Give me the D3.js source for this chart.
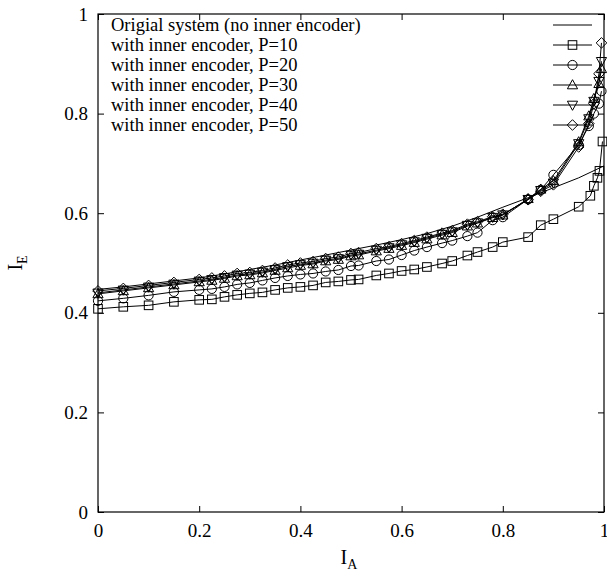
<!DOCTYPE html>
<html><head><meta charset="utf-8">
<script src="https://cdn.jsdelivr.net/npm/d3@7/dist/d3.min.js"></script>
<style>body{margin:0;background:#fff}svg{display:block}text{font-family:"Liberation Serif","Times New Roman",serif;fill:#000}</style>
</head><body><svg id="c" width="607" height="573"></svg>
<script>
// ---- data ----
const xOrig = [0,0.05,0.1,0.15,0.2,0.25,0.3,0.35,0.4,0.45,0.5,0.55,0.6,0.65,0.7,0.75,0.8,0.85,0.9,0.95,1.0];
const yOrig = [0.447,0.452,0.458,0.464,0.470,0.478,0.487,0.496,0.506,0.516,0.526,0.536,0.547,0.559,0.574,0.592,0.612,0.631,0.651,0.671,0.695];

const xP10 = [0,0.05,0.1,0.15,0.2,0.225,0.25,0.275,0.3,0.325,0.35,0.375,0.4,0.425,0.45,0.475,0.5,0.515,0.55,0.575,0.6,0.625,0.65,0.68,0.7,0.73,0.75,0.78,0.8,0.85,0.875,0.9,0.95,0.973,0.98,0.987,0.991,0.997];
const yP10 = [0.408,0.412,0.415,0.422,0.426,0.427,0.432,0.436,0.439,0.441,0.446,0.450,0.452,0.455,0.461,0.463,0.466,0.467,0.475,0.479,0.484,0.487,0.492,0.499,0.504,0.515,0.522,0.532,0.542,0.552,0.576,0.588,0.613,0.635,0.655,0.671,0.685,0.744];

const xUp = [0,0.05,0.1,0.15,0.2,0.225,0.25,0.275,0.3,0.325,0.35,0.375,0.4,0.425,0.45,0.475,0.5,0.515,0.55,0.575,0.6,0.625,0.65,0.68,0.7,0.73,0.75,0.78,0.8,0.85,0.875,0.9,0.95,0.97,0.98,0.99,0.995];
const yP20 = [0.424,0.429,0.435,0.442,0.446,0.448,0.452,0.457,0.460,0.465,0.470,0.474,0.477,0.479,0.483,0.486,0.494,0.495,0.504,0.507,0.516,0.525,0.532,0.540,0.545,0.554,0.561,0.586,0.592,0.628,0.647,0.677,0.737,0.775,0.800,0.820,0.845];
const yP30 = [0.438,0.444,0.450,0.456,0.462,0.465,0.469,0.474,0.476,0.480,0.485,0.490,0.495,0.498,0.504,0.507,0.514,0.516,0.524,0.529,0.535,0.541,0.548,0.556,0.561,0.574,0.580,0.591,0.596,0.629,0.648,0.665,0.743,0.795,0.830,0.860,0.890];
const yP40 = [0.440,0.446,0.452,0.458,0.464,0.467,0.471,0.476,0.478,0.482,0.487,0.493,0.497,0.500,0.506,0.509,0.516,0.518,0.526,0.531,0.537,0.543,0.550,0.558,0.563,0.576,0.581,0.592,0.597,0.628,0.646,0.661,0.740,0.790,0.825,0.865,0.905];
const yP50 = [0.444,0.449,0.455,0.461,0.467,0.470,0.474,0.479,0.481,0.485,0.490,0.496,0.500,0.503,0.509,0.512,0.519,0.521,0.529,0.533,0.539,0.545,0.552,0.560,0.565,0.578,0.583,0.593,0.598,0.627,0.644,0.657,0.733,0.780,0.820,0.880,0.942];

const seriesNames = ["Origial system (no inner encoder)","with inner encoder, P=10","with inner encoder, P=20","with inner encoder, P=30","with inner encoder, P=40","with inner encoder, P=50"];
const seriesMarkers = ["none","square","circle","triUp","triDown","diamond"];
const xTicks = [0,0.2,0.4,0.6,0.8,1];
const yTicks = [0,0.2,0.4,0.6,0.8,1];

const series = [
  {xs:xOrig, ys:yOrig},
  {xs:xP10, ys:yP10},
  {xs:xUp, ys:yP20},
  {xs:xUp, ys:yP30},
  {xs:xUp, ys:yP40},
  {xs:xUp, ys:yP50}
].map((s,i)=>({name:seriesNames[i], marker:seriesMarkers[i], pts:s.xs.map((x,j)=>[x,s.ys[j]])}));

// ---- drawing ----
const svg = d3.select("#c");
const L=98, R=604, T=14, B=512;
const xs = d3.scaleLinear().domain([0,1]).range([L,R]);
const ys = d3.scaleLinear().domain([0,1]).range([B,T]);
const FS = 18.5;

function marker(g, type, cx, cy){
  const s = 4.3;
  let d = null;
  if(type==="square") { g.append("rect").attr("x",cx-s).attr("y",cy-s).attr("width",2*s).attr("height",2*s); return; }
  if(type==="circle") { g.append("circle").attr("cx",cx).attr("cy",cy).attr("r",s+0.3); return; }
  if(type==="triUp") d = `M${cx},${cy-s-1}L${cx+s+0.8},${cy+s-0.5}L${cx-s-0.8},${cy+s-0.5}Z`;
  if(type==="triDown") d = `M${cx},${cy+s+1}L${cx+s+0.8},${cy-s+0.5}L${cx-s-0.8},${cy-s+0.5}Z`;
  if(type==="diamond") d = `M${cx},${cy-s-1}L${cx+s+1},${cy}L${cx},${cy+s+1}L${cx-s-1},${cy}Z`;
  if(d) g.append("path").attr("d",d);
}

// frame
svg.append("rect").attr("x",L).attr("y",T).attr("width",R-L).attr("height",B-T)
  .attr("fill","none").attr("stroke","#000").attr("stroke-width",1.2);

// axes (ticks inside, mirrored)
const tl = 6;
const axB = svg.append("g").attr("transform",`translate(0,${B})`)
  .call(d3.axisBottom(xs).tickValues(xTicks).tickSizeInner(-tl).tickSizeOuter(0).tickPadding(12).tickFormat(d3.format("~g")));
const axT = svg.append("g").attr("transform",`translate(0,${T})`)
  .call(d3.axisTop(xs).tickValues(xTicks).tickSizeInner(-tl).tickSizeOuter(0).tickFormat(""));
const axL = svg.append("g").attr("transform",`translate(${L},0)`)
  .call(d3.axisLeft(ys).tickValues(yTicks).tickSizeInner(-tl).tickSizeOuter(0).tickPadding(10).tickFormat(d3.format("~g")));
const axR = svg.append("g").attr("transform",`translate(${R},0)`)
  .call(d3.axisRight(ys).tickValues(yTicks).tickSizeInner(-tl).tickSizeOuter(0).tickFormat(""));
[axB,axT,axL,axR].forEach(g=>{
  g.select(".domain").remove();
  g.selectAll("line").attr("stroke","#000").attr("stroke-width",1);
  g.selectAll("text").attr("font-size",19).attr("font-family",'"Liberation Serif",serif').attr("fill","#000");
});

// axis titles
const xl = svg.append("text").attr("x",(L+R)/2-2).attr("y",564).attr("text-anchor","middle").attr("font-size",20);
xl.append("tspan").text("I");
xl.append("tspan").attr("font-size",14).attr("dy",5).text("A");
const yl = svg.append("text").attr("transform",`translate(22,${(T+B)/2}) rotate(-90)`).attr("text-anchor","middle").attr("font-size",20);
yl.append("tspan").text("I");
yl.append("tspan").attr("font-size",14).attr("dy",5).text("E");

// data
const line = d3.line().x(d=>xs(d[0])).y(d=>ys(d[1]));
const gData = svg.append("g");
series.forEach(s=>{
  gData.append("path").attr("d",line(s.pts)).attr("fill","none").attr("stroke","#000").attr("stroke-width",1);
});
series.forEach(s=>{
  if(s.marker==="none") return;
  const g = gData.append("g").attr("fill","none").attr("stroke","#000").attr("stroke-width",1);
  s.pts.forEach(p=>marker(g,s.marker,xs(p[0]),ys(p[1])));
});

// legend
const lg = svg.append("g");
series.forEach((s,i)=>{
  const cy = 25 + i*20;
  lg.append("text").attr("x",111).attr("y",cy).attr("dy","0.33em").attr("font-size",FS).text(s.name);
  lg.append("line").attr("x1",553).attr("x2",592).attr("y1",cy).attr("y2",cy).attr("stroke","#000").attr("stroke-width",1);
  if(s.marker!=="none"){
    const g = lg.append("g").attr("fill","none").attr("stroke","#000").attr("stroke-width",1);
    marker(g,s.marker,572.5,cy);
  }
});
</script></body></html>
